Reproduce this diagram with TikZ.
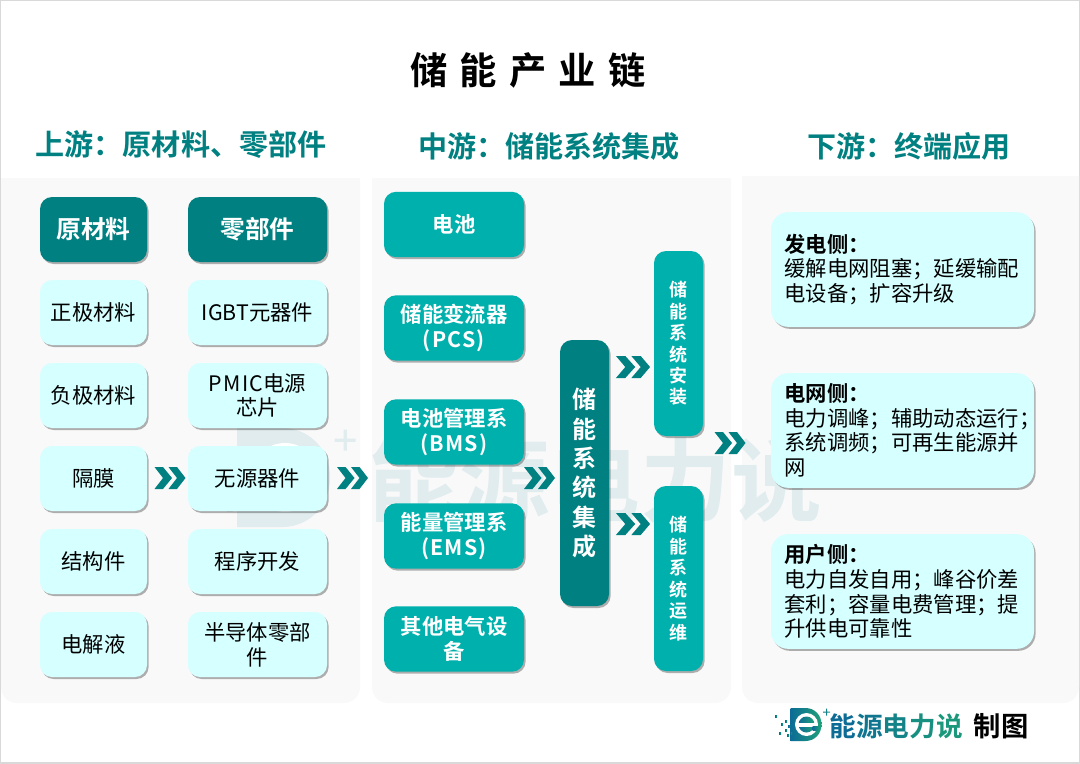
\documentclass[tikz,border=0pt]{standalone}
\usepackage{fontspec}
\setmainfont{Noto Sans CJK SC}[BoldFont={Noto Sans CJK SC Bold}]
\usepackage{tikz}
\usetikzlibrary{shadows}
\definecolor{ChainDark}{RGB}{0,128,128}
\definecolor{ChainMid}{RGB}{0,176,172}
\definecolor{ChainPale}{RGB}{214,255,255}
\definecolor{PanelGray}{RGB}{249,249,249}
\definecolor{MarkGray}{RGB}{224,236,238}
\definecolor{LogoBlue}{RGB}{12,108,150}
\definecolor{LogoGreen}{RGB}{30,160,120}
\newcommand{\spaced}[1]{{\addfontfeature{LetterSpace=6}#1}}
\tikzset{
  box/.style={rounded corners=9pt,inner sep=0pt,align=center,
    drop shadow={shadow xshift=1.2pt,shadow yshift=-1.5pt,opacity=.3,fill=black}},
  headbox/.style={box,fill=ChainDark,text=white,font=\fontsize{18.5}{22}\selectfont\bfseries},
  matbox/.style={box,fill=ChainPale,text=black,minimum height=48.75pt,font=\fontsize{16}{18.6}\selectfont},
  midbox/.style={box,fill=ChainMid,text=white,minimum width=105pt,minimum height=49pt,font=\fontsize{16}{18.2}\selectfont\bfseries},
  tallbox/.style={box,fill=ChainMid,text=white,minimum width=36.75pt,minimum height=138.75pt,font=\fontsize{13.5}{16.1}\selectfont\bfseries},
  usebox/.style={box,fill=ChainPale,text=black,rounded corners=13pt,minimum width=197.25pt,minimum height=86pt,
    align=left,font=\fontsize{16}{18.4}\selectfont},
  heading/.style={text=ChainDark,font=\fontsize{21.8}{26}\selectfont\bfseries},
  panel/.style={fill=PanelGray},
  chevrons/.pic={
    \fill[ChainDark] (-15.5,-11) -- (-7,-11) -- (2,0) -- (-7,11) -- (-15.5,11) -- (-7,0) -- cycle;
    \fill[ChainDark] (-1.5,-11) -- (7,-11) -- (15.5,0) -- (7,11) -- (-1.5,11) -- (7,0) -- cycle;
  },
  elogo/.pic={
    \path[pic actions] (0,0) -- (15,0) .. controls (24,0) and (31,7) .. (31,16.5)
      .. controls (31,26) and (24,33) .. (15,33) -- (0,33) -- cycle;
    \fill[white] (16,16.5) circle[radius=11.5];
    \path[pic actions] (16,16.5) circle[radius=8];
    \fill[white] (6,15) rectangle (27.5,18.5);
    \path[pic actions] (22,18.5) rectangle (29,22.5);
    \path[pic actions] (32.5,3.5) rectangle (39.5,4.6) (35.5,0.5) rectangle (36.6,7.5);
    \foreach \dx/\dy in {-15.5/7,-9.5/15,-5.5/12,-2.5/17,-11.5/24,-5.5/21,-3.5/26,-0.5/24}
      \path[pic actions] (\dx,\dy) rectangle ++(2,2);
  },
}
\begin{document}
\begin{tikzpicture}[x=0.75pt,y=-0.75pt]
\useasboundingbox (0,0) rectangle (1080,763);
\fill[white] (0,0) rectangle (1080,763);
\draw[black!15,line width=1pt] (0,0) rectangle (1080,763);
% panels
\fill[panel] (1,178) -- (360,178) [rounded corners=12pt] -- (360,703) -- (1,703) [sharp corners] -- cycle;
\fill[panel] (372,178) -- (731,178) [rounded corners=12pt] -- (731,703) -- (372,703) [sharp corners] -- cycle;
\fill[panel] (742,176) -- (1079,176) [rounded corners=12pt] -- (1079,703) -- (742,703) [sharp corners] -- cycle;
% watermark
\node[text=MarkGray,font=\fontsize{68}{68}\selectfont\bfseries] (markname) at (595,480) {能源电力说};
\pic[fill=MarkGray,scale=3] at (237,428) {elogo};
% titles
\node[font=\fontsize{28}{32}\selectfont\bfseries] (title) at (528,70) {储\hspace{0.33em}能\hspace{0.33em}产\hspace{0.33em}业\hspace{0.33em}链};
\node[heading] (upstream) at (181,145) {上游：原材料、零部件};
\node[heading] (midstream) at (549,146) {中游：储能系统集成};
\node[heading] (downstream) at (909,146) {下游：终端应用};
% upstream
\node[headbox,minimum width=80.25pt,minimum height=48.75pt] (rawhead) at (93.5,229.5) {原材料};
\node[matbox,minimum width=80.25pt] (raw1) at (93.5,312.5) {正极材料};
\node[matbox,minimum width=80.25pt] (raw2) at (93.5,395.5) {负极材料};
\node[matbox,minimum width=80.25pt] (raw3) at (93.5,478.5) {隔膜};
\node[matbox,minimum width=80.25pt] (raw4) at (93.5,561.5) {结构件};
\node[matbox,minimum width=80.25pt] (raw5) at (93.5,644.5) {电解液};
\node[headbox,minimum width=104.25pt,minimum height=48.75pt] (parthead) at (257.5,229.5) {零部件};
\node[matbox,minimum width=104.25pt] (part1) at (257.5,312.5) {IGBT元器件};
\node[matbox,minimum width=104.25pt] (part2) at (257.5,395.5) {\spaced{PMIC}电源\\芯片};
\node[matbox,minimum width=104.25pt] (part3) at (257.5,478.5) {无源器件};
\node[matbox,minimum width=104.25pt] (part4) at (257.5,561.5) {程序开发};
\node[matbox,minimum width=104.25pt] (part5) at (257.5,644.5) {半导体零部\\件};
% midstream
\node[midbox] (mid1) at (454,224.5) {电池};
\node[midbox] (mid2) at (454,328) {储能变流器\\\spaced{(PCS)}};
\node[midbox] (mid3) at (454,432) {电池管理系\\\spaced{(BMS)}};
\node[midbox] (mid4) at (454,536) {能量管理系\\\spaced{(EMS)}};
\node[midbox] (mid5) at (454,639) {其他电气设\\备};
\node[box,fill=ChainDark,text=white,minimum width=36.75pt,minimum height=199.5pt,font=\fontsize{18}{22}\selectfont\bfseries] (core) at (584.5,473) {储\\能\\系\\统\\集\\成};
\node[tallbox] (install) at (678.5,343.5) {储\\能\\系\\统\\安\\装};
\node[tallbox] (operate) at (678.5,578.5) {储\\能\\系\\统\\运\\维};
% downstream
\node[usebox] (gen) at (902.5,269.5) {\parbox{177pt}{\textbf{发电侧：}\\缓解电网阻塞；延缓输配\\电设备；扩容升级}};
\node[usebox] (grid) at (902.5,430.5) {\parbox{177pt}{\textbf{电网侧：}\\电力调峰；辅助动态运行；\\系统调频；可再生能源并\\网}};
\node[usebox] (user) at (902.5,591.5) {\parbox{177pt}{\textbf{用户侧：}\\电力自发自用；峰谷价差\\套利；容量电费管理；提\\升供电可靠性}};
% chevrons
\pic at (170,478) {chevrons};
\pic at (352.5,478) {chevrons};
\pic at (539.5,478) {chevrons};
\pic[xscale=1.1] at (633,367) {chevrons};
\pic[xscale=1.1] at (633,524) {chevrons};
\pic at (730,443) {chevrons};
% footer
\pic[left color=LogoBlue,right color=LogoGreen] at (790.5,708) {elogo};
\node[inner sep=0pt,font=\fontsize{20}{24}\selectfont\bfseries] (brand) at (896,726) {\textcolor{LogoBlue}{能}\textcolor{LogoBlue!80!LogoGreen}{源}\textcolor{LogoBlue!55!LogoGreen}{电}\textcolor{LogoBlue!30!LogoGreen}{力}\textcolor{LogoBlue!15!LogoGreen}{说}};
\node[inner sep=0pt,font=\fontsize{20.5}{24}\selectfont\bfseries] (made) at (1001,726) {制图};
\end{tikzpicture}
\end{document}
